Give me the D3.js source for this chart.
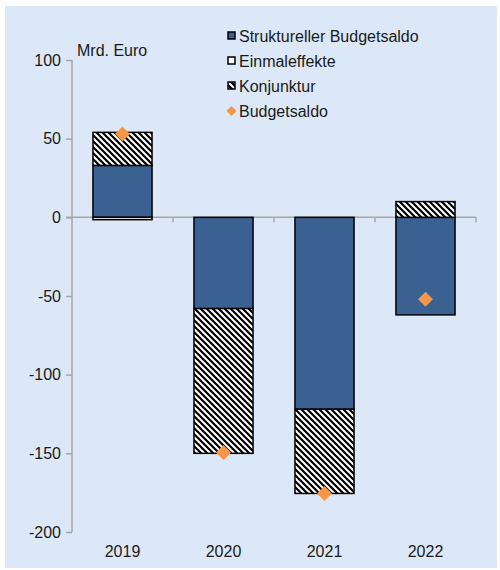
<!DOCTYPE html>
<html>
<head>
<meta charset="utf-8">
<script src="https://cdn.jsdelivr.net/npm/d3@7"></script>
<style>
  body { margin: 0; background: #fff; }
  svg { display: block; font-family: "Liberation Sans", Arial, sans-serif; }
</style>
</head>
<body>
<div id="chart"></div>
<script>
// data
var years = ["2019", "2020", "2021", "2022"];
var strukturell = [33, -58, -122, -62];
var einmal = [-1.5, 0, 0, 0];
var konjunktur = [21, -92, -53.5, 10];
var budgetsaldo = [53, -149.5, -175.5, -52];
var yTicks = [100, 50, 0, -50, -100, -150, -200];
var legendLabels = ["Struktureller Budgetsaldo", "Einmaleffekte", "Konjunktur", "Budgetsaldo"];

var width = 500, height = 570;
var blue = "#3a6192", orange = "#f79646", axisGrey = "#a6a6a6";

var svg = d3.select("#chart")
    .append("svg")
    .attr("width", width)
    .attr("height", height);

var defs = svg.append("defs");
var pat = defs.append("pattern")
    .attr("id", "hatch")
    .attr("patternUnits", "userSpaceOnUse")
    .attr("width", 6)
    .attr("height", 6);
pat.append("rect").attr("width", 6).attr("height", 6).attr("fill", "#fff");
pat.append("path")
    .attr("d", "M-1,-1 L7,7 M-1,5 L1,7 M5,-1 L7,1")
    .attr("stroke", "#000")
    .attr("stroke-width", 2.2);

// panel background
svg.append("rect")
    .attr("x", 5).attr("y", 6)
    .attr("width", 492).attr("height", 562)
    .attr("fill", "#dce8f7");

var x = d3.scaleBand()
    .domain(years)
    .range([72, 476])
    .paddingInner(0);

var y = d3.scaleLinear()
    .domain([-200, 100])
    .range([532, 60]);

var barW = x.bandwidth() * 0.585;

// y axis
var yAxis = svg.append("g")
    .attr("transform", "translate(72,0)")
    .call(d3.axisLeft(y).tickValues(yTicks).tickSize(6).tickPadding(5)
        .tickFormat(function(d) { return String(d); }));
yAxis.select(".domain").attr("stroke", axisGrey).attr("stroke-width", 1.5).attr("d", "M0," + y(100) + "V" + y(-200));
yAxis.selectAll(".tick line").attr("stroke", axisGrey).attr("stroke-width", 1.5);
yAxis.selectAll(".tick text").attr("fill", "#1a1a1a").style("font-size", "16px");

// zero line with category ticks
var zeroAxis = svg.append("g")
    .attr("transform", "translate(0," + y(0) + ")");
zeroAxis.append("line")
    .attr("x1", 66).attr("x2", 476)
    .attr("stroke", axisGrey).attr("stroke-width", 1.5);
zeroAxis.selectAll(".ctick")
    .data(years)
    .enter()
    .append("line")
    .attr("class", "ctick")
    .attr("x1", function(d) { return x(d) + x.bandwidth(); })
    .attr("x2", function(d) { return x(d) + x.bandwidth(); })
    .attr("y1", 0).attr("y2", 5)
    .attr("stroke", axisGrey).attr("stroke-width", 1.5);

// stacked segments: positives up from zero, negatives down
var segments = [];
years.forEach(function(yr, i) {
    var pos = 0, neg = 0;
    [[strukturell[i], blue], [einmal[i], "#fff"], [konjunktur[i], "url(#hatch)"]].forEach(function(s) {
        var v = s[0];
        if (v === 0) return;
        var y0, y1;
        if (v > 0) { y0 = pos; y1 = pos + v; pos = y1; }
        else { y0 = neg; y1 = neg + v; neg = y1; }
        segments.push({ year: yr, y0: y0, y1: y1, fill: s[1] });
    });
});

svg.append("g")
    .selectAll("rect")
    .data(segments)
    .enter()
    .append("rect")
    .attr("x", function(d) { return x(d.year) + (x.bandwidth() - barW) / 2; })
    .attr("width", barW)
    .attr("y", function(d) { return y(Math.max(d.y0, d.y1)); })
    .attr("height", function(d) { return Math.abs(y(d.y0) - y(d.y1)); })
    .attr("fill", function(d) { return d.fill; })
    .attr("stroke", "#000")
    .attr("stroke-width", 1.5);

// Budgetsaldo diamonds
var diamond = d3.symbol().type(d3.symbolSquare).size(112);
svg.append("g")
    .selectAll("path")
    .data(years)
    .enter()
    .append("path")
    .attr("d", diamond)
    .attr("transform", function(d, i) {
        return "translate(" + (x(d) + x.bandwidth() / 2) + "," + y(budgetsaldo[i]) + ") rotate(45)";
    })
    .attr("fill", orange);

// x labels
svg.append("g")
    .selectAll("text")
    .data(years)
    .enter()
    .append("text")
    .attr("x", function(d) { return x(d) + x.bandwidth() / 2; })
    .attr("y", 557)
    .attr("text-anchor", "middle")
    .attr("fill", "#1a1a1a")
    .style("font-size", "16px")
    .text(function(d) { return d; });

// unit label
svg.append("text")
    .attr("x", 77).attr("y", 56)
    .attr("fill", "#1a1a1a")
    .style("font-size", "16px")
    .text("Mrd. Euro");

// legend
var legend = svg.append("g").attr("transform", "translate(227,0)");
var legendY = [36, 61, 86, 111];
var legendFill = [blue, "#fff", "url(#hatch)"];
legendLabels.forEach(function(lbl, i) {
    if (i < 3) {
        legend.append("rect")
            .attr("x", 1).attr("y", legendY[i] - 4)
            .attr("width", 7).attr("height", 7)
            .attr("fill", legendFill[i])
            .attr("stroke", "#000")
            .attr("stroke-width", 1.5);
    } else {
        legend.append("path")
            .attr("d", d3.symbol().type(d3.symbolSquare).size(50))
            .attr("transform", "translate(4.5," + legendY[i] + ") rotate(45)")
            .attr("fill", orange);
    }
    legend.append("text")
        .attr("x", 12).attr("y", legendY[i] + 5.5)
        .attr("fill", "#1a1a1a")
        .style("font-size", "16px")
        .text(lbl);
});
</script>
</body>
</html>
